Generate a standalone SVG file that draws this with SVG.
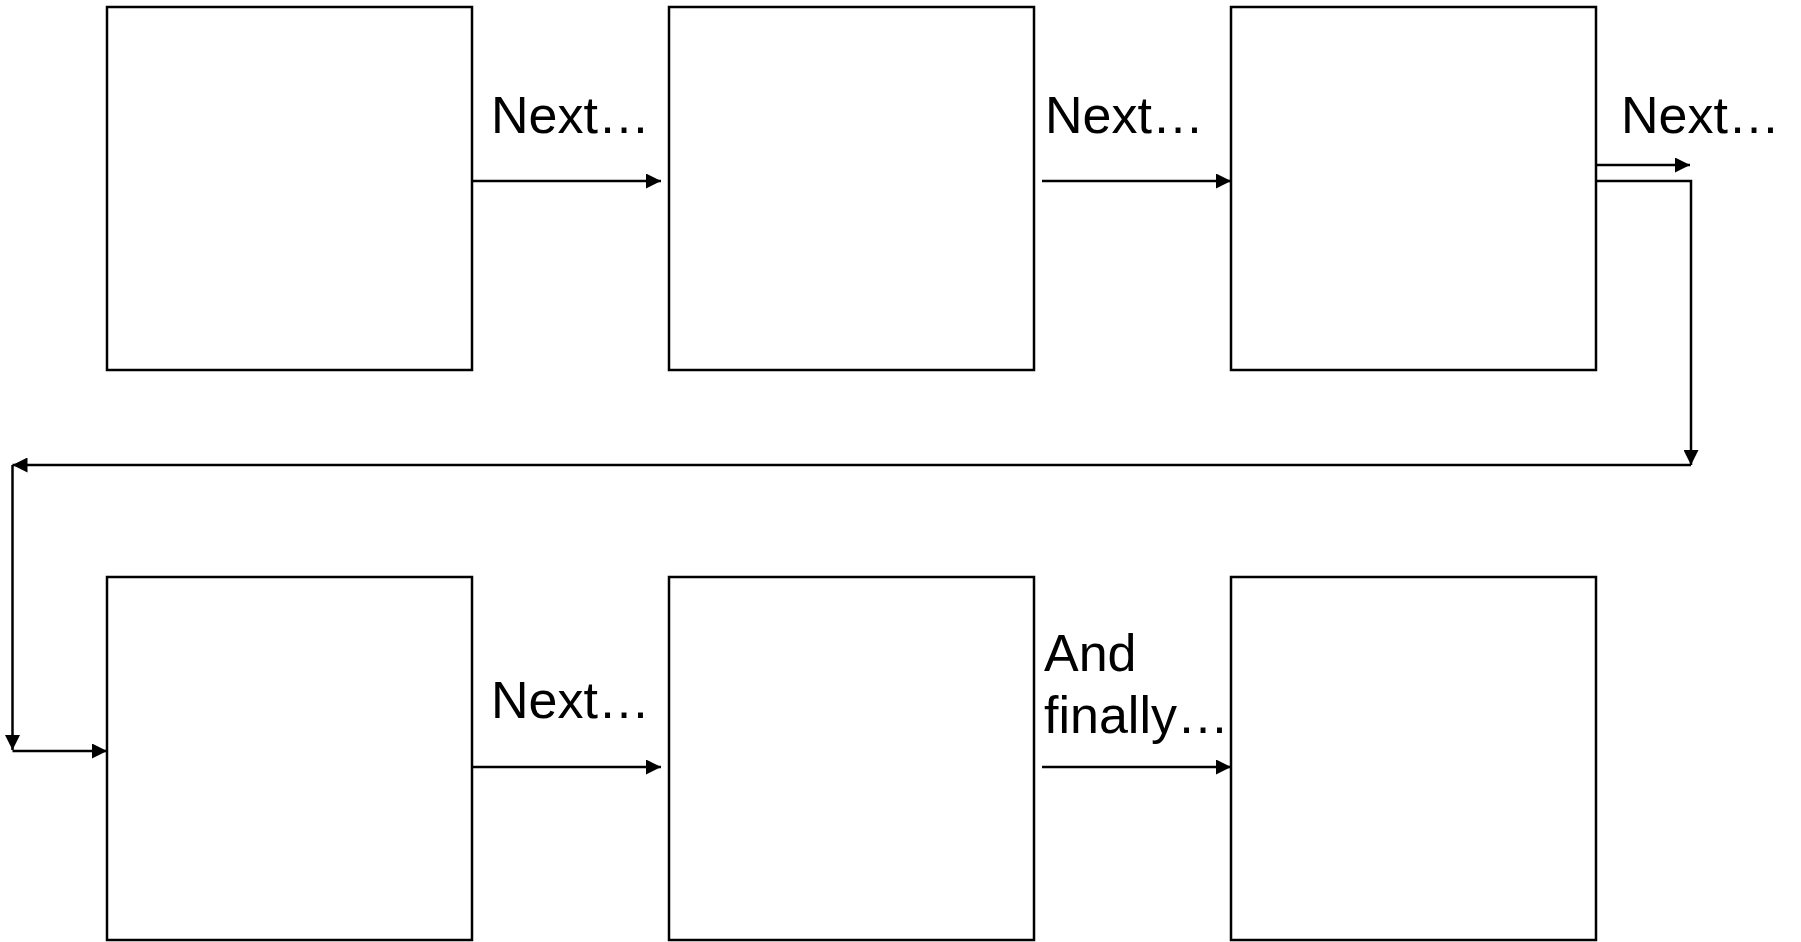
<svg xmlns="http://www.w3.org/2000/svg" width="1801" height="942" viewBox="0 0 1801 942">
<style>
.box{fill:#fff;stroke:#000;stroke-width:2.5}
.con{fill:none;stroke:#000;stroke-width:2.5}
.lbl{font-family:"Liberation Sans",Arial,sans-serif;font-size:52px;fill:#000}
</style>
<defs>
<marker id="ah" markerUnits="userSpaceOnUse" markerWidth="15" markerHeight="15" refX="15" refY="7.5" orient="auto">
<path d="M0,0 L15,7.5 L0,15 z" fill="#000"/>
</marker>
</defs>
<rect width="1801" height="942" fill="#fff"/>
<g id="node1"><rect class="box" x="107" y="7" width="365" height="363"/></g>
<g id="node2"><rect class="box" x="669" y="7" width="365" height="363"/></g>
<g id="node3"><rect class="box" x="1231" y="7" width="365" height="363"/></g>
<g id="node4"><rect class="box" x="107" y="577" width="365" height="363"/></g>
<g id="node5"><rect class="box" x="669" y="577" width="365" height="363"/></g>
<g id="node6"><rect class="box" x="1231" y="577" width="365" height="363"/></g>
<g id="connectors">
<path class="con" d="M472,181 H661" marker-end="url(#ah)"/>
<path class="con" d="M1042,181 H1231" marker-end="url(#ah)"/>
<path class="con" d="M1596,165 H1690" marker-end="url(#ah)"/>
<path class="con" d="M1596,181 H1691 V465" marker-end="url(#ah)"/>
<path class="con" d="M1691,465 H12.5" marker-end="url(#ah)"/>
<path class="con" d="M12.5,465 V750" marker-end="url(#ah)"/>
<path class="con" d="M12.5,751 H107" marker-end="url(#ah)"/>
<path class="con" d="M472,767 H661" marker-end="url(#ah)"/>
<path class="con" d="M1042,767 H1231" marker-end="url(#ah)"/>
</g>
<g id="labels">
<text class="lbl" x="491" y="133">Next…</text>
<text class="lbl" x="1045" y="133">Next…</text>
<text class="lbl" x="1621" y="133">Next…</text>
<text class="lbl" x="491" y="718">Next…</text>
<text class="lbl" x="1044" y="671">And</text>
<text class="lbl" x="1044" y="733">finally…</text>
</g>
</svg>
